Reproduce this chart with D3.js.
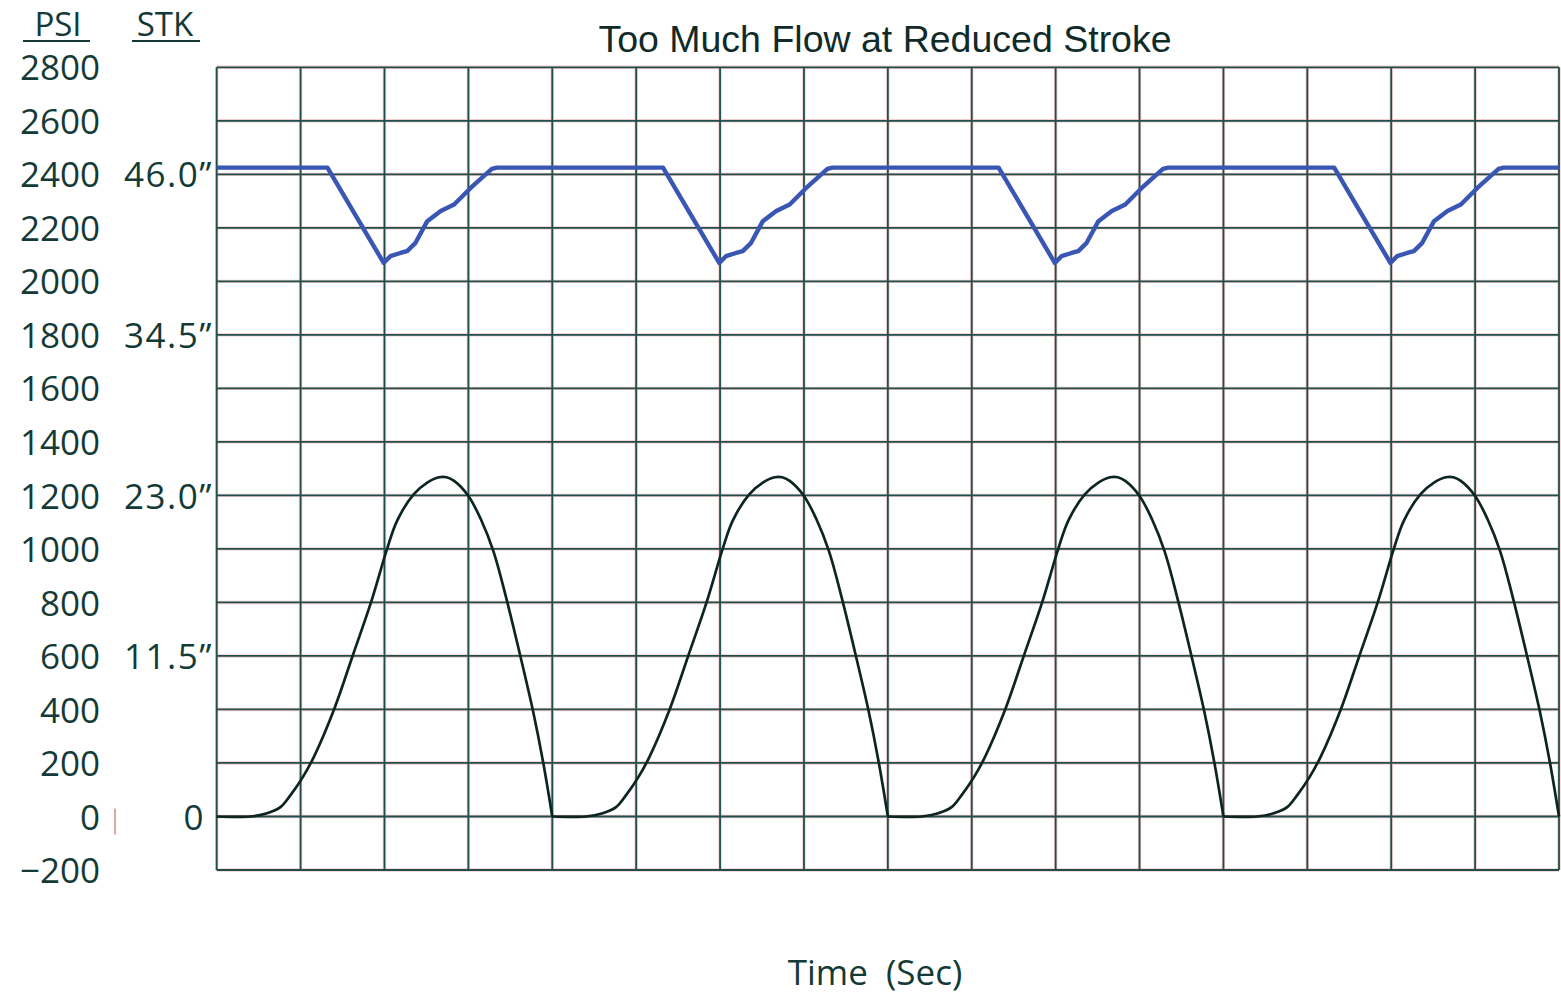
<!DOCTYPE html>
<html>
<head>
<meta charset="utf-8">
<script src="https://cdn.jsdelivr.net/npm/d3@7"></script>
<style>
  html, body { margin: 0; padding: 0; background: #ffffff; }
  svg { display: block; }
</style>
</head>
<body>
<svg id="chart" width="1561" height="997"></svg>
<script>
// ---------------- data ----------------
const chartTitle = "Too Much Flow at Reduced Stroke";
const xLabel = "Time  (Sec)";
const psiHeader = "PSI";
const stkHeader = "STK";

// time grid (seconds, 16 divisions, unlabeled)
const timeGrid = [0,1,2,3,4,5,6,7,8,9,10,11,12,13,14,15,16];

// PSI axis ticks
const psiTicks = [2800,2600,2400,2200,2000,1800,1600,1400,1200,1000,800,600,400,200,0,-200];

// STK axis ticks (position in PSI units, label)
const stkTickPos = [2400,1800,1200,600,0];
const stkTickLabels = ["46.0\u201D","34.5\u201D","23.0\u201D","11.5\u201D","0"];

// black pressure curve, one array per stroke (time, psi)
const pressureCycle1 = [[0,0],[0.4,0],[0.6,12],[0.76,35],[0.88,80],[1.03,149],[1.16,224],[1.4,401],[1.62,600],[1.84,801],[2.03,999],[2.15,1105],[2.35,1205],[2.51,1248],[2.65,1268],[2.74,1268],[2.83,1254],[3.0,1198],[3.15,1110],[3.3,990],[3.45,818],[3.61,612],[3.77,395],[3.89,205],[4.0,0]];
const pressureCycle2 = [[4,0],[4.4,0],[4.6,12],[4.76,35],[4.88,80],[5.03,149],[5.16,224],[5.4,401],[5.62,600],[5.84,801],[6.03,999],[6.15,1105],[6.35,1205],[6.51,1248],[6.65,1268],[6.74,1268],[6.83,1254],[7.0,1198],[7.15,1110],[7.3,990],[7.45,818],[7.61,612],[7.77,395],[7.89,205],[8.0,0]];
const pressureCycle3 = [[8,0],[8.4,0],[8.6,12],[8.76,35],[8.88,80],[9.03,149],[9.16,224],[9.4,401],[9.62,600],[9.84,801],[10.03,999],[10.15,1105],[10.35,1205],[10.51,1248],[10.65,1268],[10.74,1268],[10.83,1254],[11.0,1198],[11.15,1110],[11.3,990],[11.45,818],[11.61,612],[11.77,395],[11.89,205],[12.0,0]];
const pressureCycle4 = [[12,0],[12.4,0],[12.6,12],[12.76,35],[12.88,80],[13.03,149],[13.16,224],[13.4,401],[13.62,600],[13.84,801],[14.03,999],[14.15,1105],[14.35,1205],[14.51,1248],[14.65,1268],[14.74,1268],[14.83,1254],[15.0,1198],[15.15,1110],[15.3,990],[15.45,818],[15.61,612],[15.77,395],[15.89,205],[16.0,0]];

// blue stroke trace (time, value on PSI scale)
const strokeTrace = [
  [0,2425],[1.32,2425],[1.99,2069],[2.07,2094],[2.19,2106],[2.27,2113],[2.37,2144],[2.51,2225],[2.67,2263],[2.83,2287],[3.03,2350],[3.28,2420],[3.34,2425],
  [5.32,2425],[5.99,2069],[6.07,2094],[6.19,2106],[6.27,2113],[6.37,2144],[6.51,2225],[6.67,2263],[6.83,2287],[7.03,2350],[7.28,2420],[7.34,2425],
  [9.32,2425],[9.99,2069],[10.07,2094],[10.19,2106],[10.27,2113],[10.37,2144],[10.51,2225],[10.67,2263],[10.83,2287],[11.03,2350],[11.28,2420],[11.34,2425],
  [13.32,2425],[13.99,2069],[14.07,2094],[14.19,2106],[14.27,2113],[14.37,2144],[14.51,2225],[14.67,2263],[14.83,2287],[15.03,2350],[15.28,2420],[15.34,2425],[16,2425]
];

// ---------------- drawing ----------------
const svg = d3.select("#chart");
const plot = { left: 216.7, right: 1559, top: 67.3, bottom: 870 };

const x = d3.scaleLinear().domain([0, 16]).range([plot.left, plot.right]);
const y = d3.scaleLinear().domain([-200, 2800]).range([plot.bottom, plot.top]);

const ink = "#143a38";
const gridTeal = "#1f4f4c";
const gridPink = "#f6cccc";
const labelFont = "'Open Sans', 'DejaVu Sans', sans-serif";

// grid: pink halo under teal line
const grid = svg.append("g");
function hLine(v, color, w) {
  grid.append("line").attr("x1", plot.left).attr("x2", plot.right)
    .attr("y1", y(v)).attr("y2", y(v)).attr("stroke", color).attr("stroke-width", w);
}
function vLine(t, color, w) {
  grid.append("line").attr("y1", plot.top).attr("y2", plot.bottom)
    .attr("x1", x(t)).attr("x2", x(t)).attr("stroke", color).attr("stroke-width", w);
}
psiTicks.forEach(v => hLine(v, gridPink, 3.4));
timeGrid.forEach(t => vLine(t, gridPink, 3.4));
psiTicks.forEach(v => hLine(v, gridTeal, 1.8));
timeGrid.forEach(t => vLine(t, gridTeal, 1.8));

// PSI axis labels
const psiAxis = d3.axisLeft(y).tickValues(psiTicks).tickSize(0).tickPadding(0)
  .tickFormat(d3.format("d"));
const gPsi = svg.append("g").attr("transform", "translate(100,0)").call(psiAxis);
gPsi.select(".domain").remove();
gPsi.selectAll("text").attr("font-family", labelFont).attr("font-weight", 400)
  .attr("font-size", 35).attr("fill", ink).attr("dy", "0.36em");

// STK axis labels
const stkAxis = d3.axisLeft(y).tickValues(stkTickPos).tickSize(0).tickPadding(0)
  .tickFormat((d, i) => stkTickLabels[i]);
const gStk = svg.append("g").attr("transform", "translate(213,0)").call(stkAxis);
gStk.select(".domain").remove();
gStk.selectAll("text").attr("font-family", labelFont).attr("font-weight", 400)
  .attr("font-size", 35).attr("fill", ink).attr("dy", "0.36em").attr("letter-spacing", 1.5);
gStk.selectAll(".tick").filter(d => d === 0).select("text").attr("x", -8);

// small pink tick mark next to PSI zero
svg.append("line").attr("x1", 115).attr("x2", 115).attr("y1", y(0) - 8).attr("y2", y(0) + 18)
  .attr("stroke", "#d4948a").attr("stroke-width", 1.6);

// headers with underline
svg.append("text").attr("x", 58).attr("y", 36).attr("text-anchor", "middle")
  .attr("font-family", labelFont).attr("font-weight", 400).attr("font-size", 33).attr("fill", ink).text(psiHeader);
svg.append("line").attr("x1", 23).attr("x2", 90).attr("y1", 41).attr("y2", 41)
  .attr("stroke", ink).attr("stroke-width", 2);
svg.append("text").attr("x", 165).attr("y", 36).attr("text-anchor", "middle")
  .attr("font-family", labelFont).attr("font-weight", 400).attr("font-size", 33).attr("fill", ink).text(stkHeader);
svg.append("line").attr("x1", 132).attr("x2", 200).attr("y1", 41).attr("y2", 41)
  .attr("stroke", ink).attr("stroke-width", 2);

// title
svg.append("text").attr("x", 885).attr("y", 52).attr("text-anchor", "middle")
  .attr("font-family", "'Liberation Sans', Arial, sans-serif").attr("font-size", 37.5)
  .attr("fill", "#102a28").text(chartTitle);

// x label
svg.append("text").attr("x", 875).attr("y", 985).attr("text-anchor", "middle")
  .attr("font-family", labelFont).attr("font-weight", 400).attr("font-size", 35)
  .attr("fill", ink).style("white-space", "pre").text(xLabel);

// black pressure curve
const pLine = d3.line().x(d => x(d[0])).y(d => y(d[1])).curve(d3.curveCatmullRom.alpha(0.5));
[pressureCycle1, pressureCycle2, pressureCycle3, pressureCycle4].forEach(c => {
  svg.append("path").datum(c).attr("d", pLine).attr("fill", "none")
    .attr("stroke", "#0c2422").attr("stroke-width", 2.7).attr("stroke-linejoin", "round");
});

// blue stroke trace
const sLine = d3.line().x(d => x(d[0])).y(d => y(d[1])).curve(d3.curveLinear);
svg.append("path").datum(strokeTrace).attr("d", sLine).attr("fill", "none")
  .attr("stroke", "#3a56b4").attr("stroke-width", 4.4).attr("stroke-linejoin", "round");
</script>
</body>
</html>
